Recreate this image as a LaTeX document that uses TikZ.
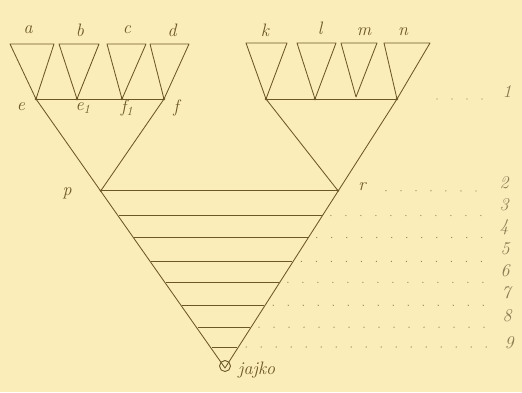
\documentclass[tikz,border=0pt]{standalone}
\usetikzlibrary{calc}
\definecolor{paper}{RGB}{250,237,186}
\definecolor{ink}{RGB}{108,88,38}
\definecolor{pencil}{RGB}{140,124,82}
\begin{document}
\begin{tikzpicture}[x=1pt,y=-1pt,
  edge/.style={draw=ink,line width=0.85pt},
  lbl/.style={text=ink,font=\fontsize{18}{18}\selectfont\itshape,inner sep=0pt},
  num/.style={text=pencil,font=\fontsize{18}{18}\selectfont\itshape,inner sep=0pt},
  dotrow/.style={draw=pencil,line width=1.3pt,line cap=round,dash pattern=on 0pt off 15pt},
  knot/.style={circle,fill=ink,inner sep=0pt,minimum size=2.6pt}]
\fill[paper] (0,0) rectangle (522,392);
\useasboundingbox (0,0) rectangle (522,392);
% top corners of the small triangles
\coordinate (a1) at (10,44);  \coordinate (a2) at (54,44);
\coordinate (b1) at (59,44);  \coordinate (b2) at (99,44);
\coordinate (c1) at (107,44); \coordinate (c2) at (146,44);
\coordinate (d1) at (150,44); \coordinate (d2) at (189,44);
\coordinate (k1) at (246,43); \coordinate (k2) at (287,43);
\coordinate (l1) at (297,43); \coordinate (l2) at (336,43);
\coordinate (m1) at (341,43); \coordinate (m2) at (377,43);
\coordinate (n1) at (384,43); \coordinate (n2) at (430,43);
% apexes
\coordinate (e) at (36,99);
\coordinate (e1) at (77,99);
\coordinate (f1) at (122,99);
\coordinate (f) at (164,99);
\coordinate (K) at (266,99);
\coordinate (L) at (315,99);
\coordinate (M) at (356,97);
\coordinate (N) at (397,99);
\node[draw=ink,line width=0.9pt,circle,minimum size=11pt,inner sep=0pt] (o) at (225,366) {};
% small triangles
\draw[edge,line join=round] (a1) -- (a2) -- (e) -- cycle;
\draw[edge,line join=round] (b1) -- (b2) -- (e1) -- cycle;
\draw[edge,line join=round] (c1) -- (c2) -- (f1) -- cycle;
\draw[edge,line join=round] (d1) -- (d2) -- (f) -- cycle;
\draw[edge,line join=round] (k1) -- (k2) -- (K) -- cycle;
\draw[edge,line join=round] (l1) -- (l2) -- (L) -- cycle;
\draw[edge,line join=round] (m1) -- (m2) -- (M) -- cycle;
\draw[edge,line join=round] (n1) -- (n2) -- (N) -- cycle;
\draw[edge] (e) -- (f);
\draw[edge] (K) -- (N);
% big V, running into the centre of the egg
\draw[edge,line join=round] (e) -- ($(o.center)+(0,2)$) -- (N);
\coordinate (p) at ($(e)!0.3433!(o)$);
\coordinate (r) at ($(N)!0.3433!(o)$);
\draw[edge] (f) -- (p);
\draw[edge] (K) -- (r);
% knots
\foreach \c in {e,e1,f1,f,K,L,N,p,r}{ \node[knot] at (\c) {}; }
% horizontal rungs
\foreach \t/\i in {0.3433/2,0.4366/3,0.5187/4,0.6082/5,0.6866/6,0.7724/7,0.8545/8,0.9291/9}{
  \coordinate (L\i) at ($(e)!\t!(o)$);
  \coordinate (R\i) at ($(N)!\t!(o)$);
  \draw[edge] (L\i) -- (R\i);
}
% dotted rows
\coordinate (D1) at (490,99);
\draw[dotrow] ($(N)+(40,0)$) -- (D1);
\draw[dotrow] ($(R2)+(48,0)$) -- (490,191);
\foreach \i in {3,...,9}{
  \draw[dotrow] ($(R\i)+(9,0)$) -- (490,0 |- R\i);
}
% labels
\node[lbl] at (28,30) {a};
\node[lbl] at (80,30) {b};
\node[lbl] at (127,30) {c};
\node[lbl] at (172,30) {d};
\node[lbl] at (265,30) {k};
\node[lbl] at (320,28) {l};
\node[lbl] at (364,32) {m};
\node[lbl] at (403,32) {n};
\node[lbl] at (21,107) {e};
\node[lbl] at (83,108) {e\textsubscript{1}};
\node[lbl] at (127,108) {f\textsubscript{1}};
\node[lbl] at (176,108) {f};
\node[lbl] at (67,193) {p};
\node[lbl] at (362,187) {r};
\node[lbl,anchor=west] at (238,370) {jajko};
% numbers
\node[num] at (507,92) {1};
\node[num] at (504,183) {2};
\node[num] at (504,205) {3};
\node[num] at (504,227) {4};
\node[num] at (505,249) {5};
\node[num] at (505,271) {6};
\node[num] at (506,293) {7};
\node[num] at (507,316) {8};
\node[num] at (509,343) {9};
\end{tikzpicture}
\end{document}
